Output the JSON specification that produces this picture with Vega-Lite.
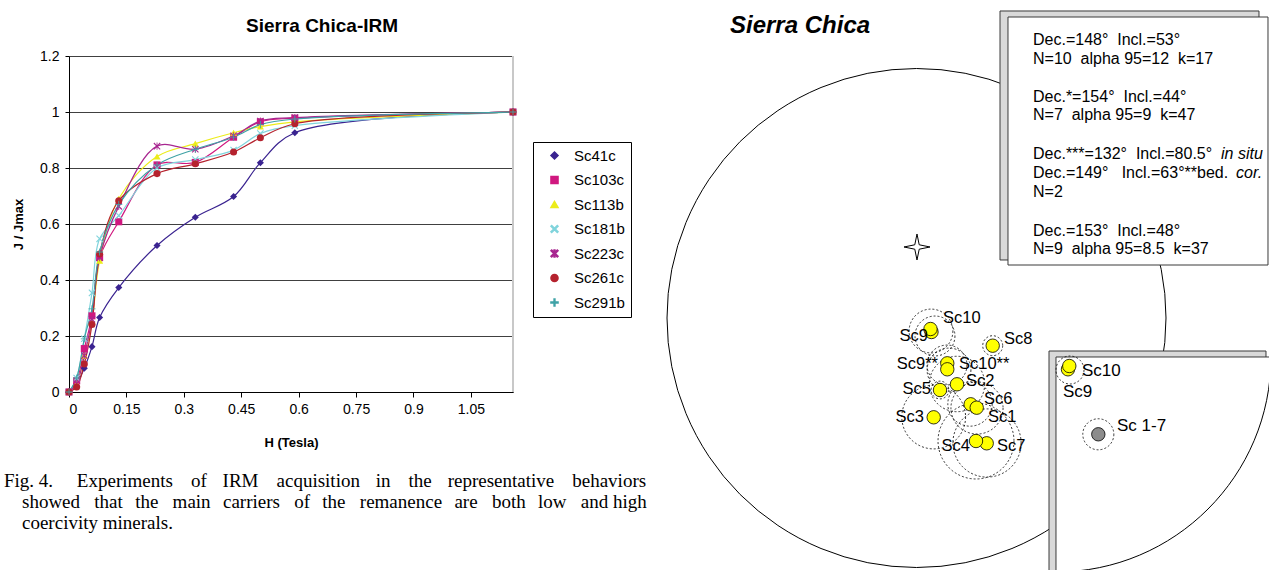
{
  "$schema": "https://vega.github.io/schema/vega-lite/v6.json",
  "width": 1269,
  "height": 570,
  "autosize": {"type": "none"},
  "padding": 0,
  "background": "white",
  "config": {"view": {"stroke": null}, "font": "Liberation Sans"},
  "datasets": {
    "irm": [
      {"s":"Sc41c","h":0,"v":0},{"s":"Sc41c","h":0.02,"v":0.03},{"s":"Sc41c","h":0.04,"v":0.085},{"s":"Sc41c","h":0.06,"v":0.162},{"s":"Sc41c","h":0.08,"v":0.266},{"s":"Sc41c","h":0.13,"v":0.373},{"s":"Sc41c","h":0.23,"v":0.523},{"s":"Sc41c","h":0.33,"v":0.624},{"s":"Sc41c","h":0.43,"v":0.698},{"s":"Sc41c","h":0.5,"v":0.819},{"s":"Sc41c","h":0.59,"v":0.926},{"s":"Sc41c","h":1.16,"v":1},
      {"s":"Sc103c","h":0,"v":0},{"s":"Sc103c","h":0.02,"v":0.04},{"s":"Sc103c","h":0.04,"v":0.155},{"s":"Sc103c","h":0.06,"v":0.272},{"s":"Sc103c","h":0.08,"v":0.48},{"s":"Sc103c","h":0.13,"v":0.608},{"s":"Sc103c","h":0.23,"v":0.811},{"s":"Sc103c","h":0.33,"v":0.82},{"s":"Sc103c","h":0.43,"v":0.91},{"s":"Sc103c","h":0.5,"v":0.965},{"s":"Sc103c","h":0.59,"v":0.978},{"s":"Sc103c","h":1.16,"v":1},
      {"s":"Sc113b","h":0,"v":0},{"s":"Sc113b","h":0.02,"v":0.03},{"s":"Sc113b","h":0.04,"v":0.13},{"s":"Sc113b","h":0.06,"v":0.25},{"s":"Sc113b","h":0.08,"v":0.469},{"s":"Sc113b","h":0.13,"v":0.69},{"s":"Sc113b","h":0.23,"v":0.841},{"s":"Sc113b","h":0.33,"v":0.887},{"s":"Sc113b","h":0.43,"v":0.926},{"s":"Sc113b","h":0.5,"v":0.948},{"s":"Sc113b","h":0.59,"v":0.965},{"s":"Sc113b","h":1.16,"v":1},
      {"s":"Sc181b","h":0,"v":0},{"s":"Sc181b","h":0.02,"v":0.05},{"s":"Sc181b","h":0.04,"v":0.19},{"s":"Sc181b","h":0.06,"v":0.354},{"s":"Sc181b","h":0.08,"v":0.547},{"s":"Sc181b","h":0.13,"v":0.63},{"s":"Sc181b","h":0.23,"v":0.8},{"s":"Sc181b","h":0.33,"v":0.83},{"s":"Sc181b","h":0.43,"v":0.864},{"s":"Sc181b","h":0.5,"v":0.923},{"s":"Sc181b","h":0.59,"v":0.951},{"s":"Sc181b","h":1.16,"v":1},
      {"s":"Sc223c","h":0,"v":0},{"s":"Sc223c","h":0.02,"v":0.03},{"s":"Sc223c","h":0.04,"v":0.13},{"s":"Sc223c","h":0.06,"v":0.26},{"s":"Sc223c","h":0.08,"v":0.48},{"s":"Sc223c","h":0.13,"v":0.663},{"s":"Sc223c","h":0.23,"v":0.878},{"s":"Sc223c","h":0.33,"v":0.867},{"s":"Sc223c","h":0.43,"v":0.915},{"s":"Sc223c","h":0.5,"v":0.968},{"s":"Sc223c","h":0.59,"v":0.98},{"s":"Sc223c","h":1.16,"v":1},
      {"s":"Sc261c","h":0,"v":0},{"s":"Sc261c","h":0.02,"v":0.018},{"s":"Sc261c","h":0.04,"v":0.1},{"s":"Sc261c","h":0.06,"v":0.241},{"s":"Sc261c","h":0.08,"v":0.493},{"s":"Sc261c","h":0.13,"v":0.683},{"s":"Sc261c","h":0.23,"v":0.78},{"s":"Sc261c","h":0.33,"v":0.815},{"s":"Sc261c","h":0.43,"v":0.857},{"s":"Sc261c","h":0.5,"v":0.908},{"s":"Sc261c","h":0.59,"v":0.958},{"s":"Sc261c","h":1.16,"v":1},
      {"s":"Sc291b","h":0,"v":0},{"s":"Sc291b","h":0.02,"v":0.05},{"s":"Sc291b","h":0.04,"v":0.19},{"s":"Sc291b","h":0.06,"v":0.297},{"s":"Sc291b","h":0.08,"v":0.5},{"s":"Sc291b","h":0.13,"v":0.67},{"s":"Sc291b","h":0.23,"v":0.811},{"s":"Sc291b","h":0.33,"v":0.867},{"s":"Sc291b","h":0.43,"v":0.91},{"s":"Sc291b","h":0.5,"v":0.955},{"s":"Sc291b","h":0.59,"v":0.975},{"s":"Sc291b","h":1.16,"v":1}
    ],
    "origin": [{"x": 0, "y": 0}],
    "star": [{"x": 0.002, "y": 0.2846}],
    "a95": [
      {"site":"Sc9","x":0.0581,"y":-0.0521,"a95":7.9},
      {"site":"Sc10","x":0.0741,"y":-0.0721,"a95":7.2},
      {"site":"Sc8","x":0.3054,"y":-0.111,"a95":3.6},
      {"site":"Sc9**","x":0.1222,"y":-0.1884,"a95":7.2},
      {"site":"Sc10**","x":0.1303,"y":-0.2084,"a95":7.9},
      {"site":"Sc5","x":0.0942,"y":-0.2886,"a95":3.2},
      {"site":"Sc2","x":0.1623,"y":-0.2645,"a95":10},
      {"site":"Sc6","x":0.2144,"y":-0.3447,"a95":8},
      {"site":"Sc1","x":0.2425,"y":-0.3607,"a95":9.4},
      {"site":"Sc3","x":0.0689,"y":-0.3968,"a95":11.5},
      {"site":"Sc4","x":0.2385,"y":-0.493,"a95":13.7},
      {"site":"Sc7","x":0.2826,"y":-0.501,"a95":12.3}
    ],
    "sites": [
      {"site":"Sc9","x":0.0601,"y":-0.0561},
      {"site":"Sc10","x":0.0561,"y":-0.0441},
      {"site":"Sc8","x":0.3054,"y":-0.111},
      {"site":"Sc9**","x":0.1234,"y":-0.1816},
      {"site":"Sc10**","x":0.1234,"y":-0.2056},
      {"site":"Sc2","x":0.1623,"y":-0.2657},
      {"site":"Sc5","x":0.0942,"y":-0.2886},
      {"site":"Sc6","x":0.2172,"y":-0.3459},
      {"site":"Sc1","x":0.2413,"y":-0.3595},
      {"site":"Sc3","x":0.0689,"y":-0.398},
      {"site":"Sc7","x":0.2814,"y":-0.5022},
      {"site":"Sc4","x":0.2385,"y":-0.493}
    ],
    "labels": [
      {"t":"Sc10","side":"L","x":0.1062,"y":0},
      {"t":"Sc9","side":"R","x":0.0461,"y":-0.0721},
      {"t":"Sc8","side":"L","x":0.3507,"y":-0.0842},
      {"t":"Sc9**","side":"R","x":0.0862,"y":-0.1844},
      {"t":"Sc10**","side":"L","x":0.1703,"y":-0.1844},
      {"t":"Sc2","side":"L","x":0.1984,"y":-0.2525},
      {"t":"Sc5","side":"R","x":0.0581,"y":-0.2846},
      {"t":"Sc6","side":"L","x":0.2705,"y":-0.3246},
      {"t":"Sc1","side":"L","x":0.2866,"y":-0.3968},
      {"t":"Sc3","side":"R","x":0.0301,"y":-0.3968},
      {"t":"Sc4","side":"R","x":0.2144,"y":-0.513},
      {"t":"Sc7","side":"L","x":0.3226,"y":-0.513}
    ],
    "insetlabels": [
      {"t":"Sc10","x":0.6633,"y":-0.2124},
      {"t":"Sc9","x":0.5872,"y":-0.2946},
      {"t":"Sc 1-7","x":0.8036,"y":-0.4329}
    ],
    "backboxes": [
      {"x":0.3347,"x2":1.3727,"y":1.2305,"y2":0.2325},
      {"x":0.5311,"x2":1.4008,"y":-0.1323,"y2":-1.03}
    ],
    "frontboxes": [
      {"x":0.3667,"x2":1.4088,"y":1.2064,"y2":0.2124},
      {"x":0.5591,"x2":1.4569,"y":-0.1563,"y2":-1.05}
    ],
    "boxtext": [
      {"x":0.4669,"y":1.1142,"t":"Dec.=148°\u00a0\u00a0Incl.=53°"},
      {"x":0.4669,"y":1.0381,"t":"N=10\u00a0\u00a0alpha 95=12\u00a0\u00a0k=17"},
      {"x":0.4669,"y":0.8858,"t":"Dec.*=154°\u00a0\u00a0Incl.=44°"},
      {"x":0.4669,"y":0.8136,"t":"N=7\u00a0\u00a0alpha 95=9\u00a0\u00a0k=47"},
      {"x":0.4669,"y":0.6573,"t":"Dec.***=132°\u00a0\u00a0Incl.=80.5°"},
      {"x":0.4669,"y":0.5812,"t":"Dec.=149°\u00a0\u00a0\u00a0Incl.=63°**bed."},
      {"x":0.4669,"y":0.505,"t":"N=2"},
      {"x":0.4669,"y":0.3487,"t":"Dec.=153°\u00a0\u00a0Incl.=48°"},
      {"x":0.4669,"y":0.2766,"t":"N=9\u00a0\u00a0alpha 95=8.5\u00a0\u00a0k=37"}
    ],
    "boxitalic": [
      {"x":1.2204,"y":0.6573,"t":"in situ"},
      {"x":1.2806,"y":0.5812,"t":"cor."}
    ],
    "insetcenter": [{"x":0.5591,"y":-0.1563}],
    "inseta95": [
      {"site":"Sc9/Sc10","x":0.6152,"y":-0.2084,"a95":5.05},
      {"site":"Sc 1-7","x":0.7287,"y":-0.4661,"a95":5.6}
    ],
    "insetsites": [
      {"site":"Sc9","kind":"site","x":0.6072,"y":-0.2056},
      {"site":"Sc10","kind":"site","x":0.6124,"y":-0.1924},
      {"site":"Sc 1-7","kind":"mean","x":0.7287,"y":-0.4661}
    ],
    "title2": [{"x":-0.7475,"y":1.1703,"t":"Sierra Chica"}],
    "caption": [
      {"line":1,"indent":0,"t":"Fig. 4.\u00a0\u00a0\u00a0\u00a0\u00a0Experiments \u2002\u2009of \u2002\u200aIRM \u2002\u2009acquisition \u2002\u200ain \u2002\u2009the \u2002\u200arepresentative \u2002\u2009behaviors"},
      {"line":2,"indent":1,"t":"showed \u2002that \u2009\u2009the \u2002main \u2009\u2009carriers \u2002of \u2009\u2009the \u2002remanence \u2009\u2009are \u2002both \u2009\u2009low \u2002and high"},
      {"line":3,"indent":1,"t":"coercivity minerals."}
    ]
  },
  "layer": [
    {
      "layer": [
        {
          "data": {"values": [{}]},
          "mark": {"type":"rule","color":"#c8c8c8","strokeWidth":2},
          "encoding": {
            "x":{"datum":1.16,"type":"quantitative","scale":{"domain":[0,1.16],"range":[69,513],"nice":false,"zero":false}},
            "y":{"datum":0,"type":"quantitative","scale":{"domain":[0,1.2],"range":[392,56],"nice":false,"zero":false}},
            "y2":{"datum":1.2}
          }
        },
        {
          "data": {"name":"irm"},
          "mark": {"type":"line","interpolate":"catmull-rom","strokeWidth":1.2},
          "encoding": {
            "x": {"field":"h","type":"quantitative","scale":{"domain":[0,1.16],"range":[69,513],"nice":false,"zero":false},
              "axis":{"orient":"bottom","offset":-178,"values":[0,0.15,0.3,0.45,0.6,0.75,0.9,1.05],"format":".2~f","grid":false,"domainColor":"black","tickColor":"black","tickSize":5,"labelFontSize":14,"labelColor":"black","labelPadding":5,"labelFont":"Liberation Sans","title":"H (Tesla)","titleFontSize":13,"titleFontWeight":"bold","titleColor":"black","titlePadding":20,"titleFont":"Liberation Sans"}},
            "y": {"field":"v","type":"quantitative","scale":{"domain":[0,1.2],"range":[392,56],"nice":false,"zero":false},
              "axis":{"orient":"left","offset":-69,"values":[0,0.2,0.4,0.6,0.8,1,1.2],"format":"~g","grid":true,"gridColor":"#404040","gridWidth":1,"domainColor":"black","tickColor":"black","tickSize":4,"labelFontSize":14,"labelColor":"black","labelPadding":6,"labelFont":"Liberation Sans","title":"J / Jmax","titleFontSize":13,"titleFontWeight":"bold","titleColor":"black","titlePadding":14,"titleFont":"Liberation Sans"}},
            "color": {"field":"s","type":"nominal",
              "scale":{"domain":["Sc41c","Sc103c","Sc113b","Sc181b","Sc223c","Sc261c","Sc291b"],"range":["#3a2390","#d0187f","#ecec1a","#80d4dc","#a82690","#b5222e","#3fa2a6"]},
              "legend":{"orient":"none","legendX":533,"legendY":142,"title":null,"strokeColor":"black","fillColor":"white","padding":6,"rowPadding":8.5,"labelFontSize":15,"labelFont":"Liberation Sans","labelColor":"black","symbolSize":50,"symbolStrokeWidth":1.5,"labelOffset":12,"symbolOffset":8}}
          }
        },
        {
          "data": {"name":"irm"},
          "mark": {"type":"point","filled":true,"opacity":1,"size":50},
          "encoding": {
            "x": {"field":"h","type":"quantitative","scale":{"domain":[0,1.16],"range":[69,513],"nice":false,"zero":false}},
            "y": {"field":"v","type":"quantitative","scale":{"domain":[0,1.2],"range":[392,56],"nice":false,"zero":false}},
            "color": {"field":"s","type":"nominal",
              "scale":{"domain":["Sc41c","Sc103c","Sc113b","Sc181b","Sc223c","Sc261c","Sc291b"],"range":["#3a2390","#d0187f","#ecec1a","#80d4dc","#a82690","#b5222e","#3fa2a6"]},
              "legend":{"orient":"none","legendX":533,"legendY":142,"title":null,"strokeColor":"black","fillColor":"white","padding":6,"rowPadding":8.5,"labelFontSize":15,"labelFont":"Liberation Sans","labelColor":"black","symbolSize":50,"symbolStrokeWidth":1.5,"labelOffset":12,"symbolOffset":8}},
            "shape": {"field":"s","type":"nominal",
              "scale":{"domain":["Sc41c","Sc103c","Sc113b","Sc181b","Sc223c","Sc261c","Sc291b"],"range":["diamond","square","triangle-up","M -1 -0.78 L -0.78 -1 L 0 -0.22 L 0.78 -1 L 1 -0.78 L 0.22 0 L 1 0.78 L 0.78 1 L 0 0.22 L -0.78 1 L -1 0.78 L -0.22 0 Z","M -1 -0.78 L -0.78 -1 L 0 -0.22 L 0.78 -1 L 1 -0.78 L 0.22 0 L 1 0.78 L 0.78 1 L 0 0.22 L -0.78 1 L -1 0.78 L -0.22 0 Z M -0.12 -1 L 0.12 -1 L 0.12 1 L -0.12 1 Z","circle","M -1 -0.12 L -0.12 -0.12 L -0.12 -1 L 0.12 -1 L 0.12 -0.12 L 1 -0.12 L 1 0.12 L 0.12 0.12 L 0.12 1 L -0.12 1 L -0.12 0.12 L -1 0.12 Z"]},
              "legend":{"orient":"none","legendX":533,"legendY":142,"title":null,"strokeColor":"black","fillColor":"white","padding":6,"rowPadding":8.5,"labelFontSize":15,"labelFont":"Liberation Sans","labelColor":"black","symbolSize":50,"symbolStrokeWidth":1.5,"labelOffset":12,"symbolOffset":8}}
          }
        },
        {
          "data": {"values": [{}]},
          "mark": {"type":"text","font":"Liberation Sans","fontSize":19,"fontWeight":"bold","color":"black","align":"center","baseline":"middle"},
          "encoding": {
            "x":{"datum":0.661,"type":"quantitative","scale":{"domain":[0,1.16],"range":[69,513],"nice":false,"zero":false}},
            "y":{"datum":1.307,"type":"quantitative","scale":{"domain":[0,1.2],"range":[392,56],"nice":false,"zero":false}},
            "text":{"value":"Sierra Chica-IRM"}
          }
        }
      ]
    },
    {
      "encoding": {
        "x": {"field":"x","type":"quantitative","scale":{"domain":[-1,1],"range":[667,1166],"nice":false,"zero":false},"axis":null},
        "y": {"field":"y","type":"quantitative","scale":{"domain":[-1,1],"range":[567.5,68.5],"nice":false,"zero":false},"axis":null}
      },
      "layer": [
        {"data":{"name":"origin"},"mark":{"type":"point","shape":"circle","filled":false,"stroke":"black","strokeWidth":1,"opacity":1,"size":249001}},
        {"data":{"name":"star"},"mark":{"type":"point","shape":"M 0 -1 L 0.17 -0.17 L 1 0 L 0.17 0.17 L 0 1 L -0.17 0.17 L -1 0 L -0.17 -0.17 Z","filled":true,"fill":"white","stroke":"black","strokeWidth":1,"opacity":1,"size":676}},
        {"data":{"name":"a95"},"mark":{"type":"point","shape":"circle","filled":false,"stroke":"black","strokeWidth":0.8,"strokeDash":[2,2],"opacity":1},
          "encoding":{"size":{"field":"a95","type":"quantitative","scale":{"type":"pow","exponent":2,"domain":[0,90],"range":[0,249001]},"legend":null}}},
        {"data":{"name":"sites"},"mark":{"type":"point","shape":"circle","filled":true,"fill":"#ffff00","stroke":"black","strokeWidth":0.8,"opacity":1,"size":180}},
        {"data":{"name":"labels"},"transform":[{"filter":"datum.side === 'L'"}],"mark":{"type":"text","align":"left","baseline":"middle","font":"Liberation Sans","fontSize":16.5,"color":"black"},"encoding":{"text":{"field":"t"}}},
        {"data":{"name":"labels"},"transform":[{"filter":"datum.side === 'R'"}],"mark":{"type":"text","align":"right","baseline":"middle","font":"Liberation Sans","fontSize":16.5,"color":"black"},"encoding":{"text":{"field":"t"}}},
        {"data":{"name":"backboxes"},"mark":{"type":"rect","fill":"#d9d9d9","stroke":"#3a3a3a","strokeWidth":1},"encoding":{"x2":{"field":"x2"},"y2":{"field":"y2"}}},
        {"data":{"name":"frontboxes"},"mark":{"type":"rect","fill":"white","stroke":"#3a3a3a","strokeWidth":1},"encoding":{"x2":{"field":"x2"},"y2":{"field":"y2"}}},
        {"data":{"name":"boxtext"},"mark":{"type":"text","align":"left","baseline":"middle","font":"Liberation Sans","fontSize":16,"color":"black"},"encoding":{"text":{"field":"t"}}},
        {"data":{"name":"boxitalic"},"mark":{"type":"text","align":"left","baseline":"middle","font":"Liberation Sans","fontSize":16,"fontStyle":"italic","color":"black"},"encoding":{"text":{"field":"t"}}},
        {"data":{"name":"insetcenter"},"mark":{"type":"point","shape":"M 1 0 C 1 0.5523 0.5523 1 0 1","filled":false,"stroke":"black","strokeWidth":1,"opacity":1,"size":184900}},
        {"data":{"name":"inseta95"},"mark":{"type":"point","shape":"circle","filled":false,"stroke":"black","strokeWidth":0.8,"strokeDash":[2,2],"opacity":1},
          "encoding":{"size":{"field":"a95","type":"quantitative","scale":{"type":"pow","exponent":2,"domain":[0,90],"range":[0,249001]},"legend":null}}},
        {"data":{"name":"insetsites"},"mark":{"type":"point","shape":"circle","filled":true,"stroke":"black","strokeWidth":0.8,"opacity":1,"size":180},
          "encoding":{"fill":{"field":"kind","type":"nominal","scale":{"domain":["site","mean"],"range":["#ffff00","#8c8c8c"]},"legend":null}}},
        {"data":{"name":"insetlabels"},"mark":{"type":"text","align":"left","baseline":"middle","font":"Liberation Sans","fontSize":17,"color":"black"},"encoding":{"text":{"field":"t"}}},
        {"data":{"name":"title2"},"mark":{"type":"text","align":"left","baseline":"middle","font":"Liberation Sans","fontSize":24,"fontStyle":"italic","fontWeight":"bold","color":"black"},"encoding":{"text":{"field":"t"}}}
      ]
    },
    {
      "data": {"name":"caption"},
      "mark": {"type":"text","align":"left","baseline":"middle","font":"Liberation Serif","fontSize":19,"color":"black"},
      "encoding": {
        "x": {"field":"indent","type":"quantitative","scale":{"domain":[0,1],"range":[4,22],"nice":false,"zero":false},"axis":null},
        "y": {"field":"line","type":"quantitative","scale":{"domain":[1,3],"range":[481,523],"nice":false,"zero":false},"axis":null},
        "text": {"field":"t"}
      }
    }
  ],
  "resolve": {"scale": {"x":"independent","y":"independent"}, "axis": {"x":"independent","y":"independent"}}
}
